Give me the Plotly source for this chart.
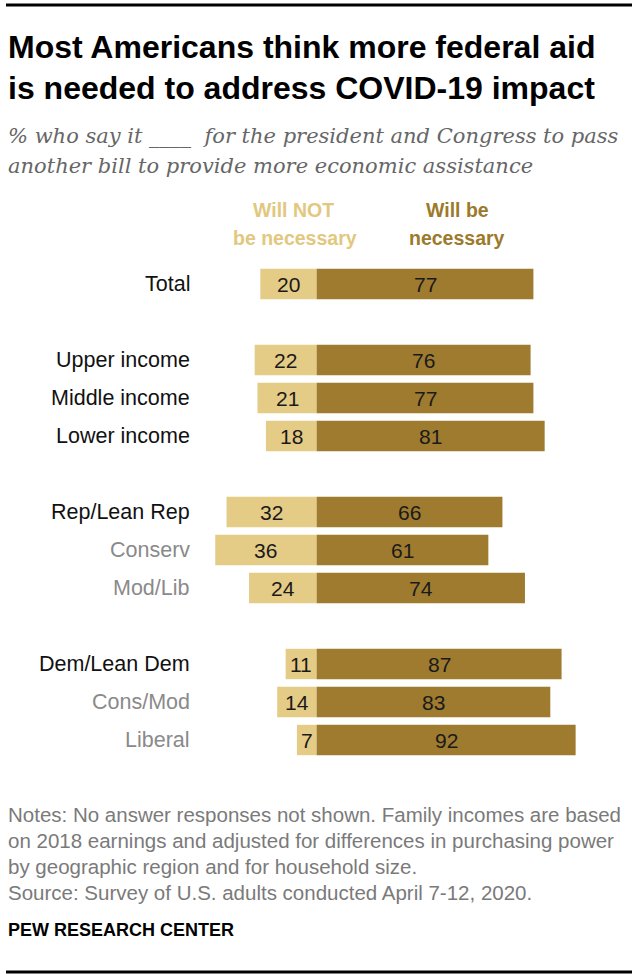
import plotly.graph_objects as go

# data
categories = ["Total", "Upper income", "Middle income", "Lower income",
              "Rep/Lean Rep", "Conserv", "Mod/Lib",
              "Dem/Lean Dem", "Cons/Mod", "Liberal"]
row_pos = [0, 2, 3, 4, 6, 7, 8, 10, 11, 12]
subgroup = [False, False, False, False, False, True, True, False, True, True]
will_not = [20, 22, 21, 18, 32, 36, 24, 11, 14, 7]
will_be = [77, 76, 77, 81, 66, 61, 74, 87, 83, 92]

title_lines = ["Most Americans think more federal aid",
               "is needed to address COVID-19 impact"]
subtitle_lines = ["% who say it ____  for the president and Congress to pass",
                  "another bill to provide more economic assistance"]
note_lines = ["Notes: No answer responses not shown. Family incomes are based",
              "on 2018 earnings and adjusted for differences in purchasing power",
              "by geographic region and for household size.",
              "Source: Survey of U.S. adults conducted April 7-12, 2020."]

LIGHT = "#E4CB86"
DARK = "#9E7B2F"
SANS = "Liberation Sans, Arial, sans-serif"
SERIF = "DejaVu Serif, Georgia, serif"

# layout geometry (pixels)
W, H = 638, 980
ML, MR, MT, MB = 204, 39, 265, 221
PW, PH = W - ML - MR, H - MT - MB


def px_x(px):
    return (px - ML) / PW


def px_y(py):
    return (H - MB - py) / PH


def text_at(x, y, text, font, xanchor="left"):
    return dict(x=px_x(x), y=px_y(y), xref="paper", yref="paper", xanchor=xanchor,
                yanchor="middle", showarrow=False, text=text, font=font)


fig = go.Figure()
fig.add_trace(go.Bar(y=row_pos, x=[-v for v in will_not], orientation="h",
                     marker=dict(color=LIGHT, line=dict(width=0)), width=0.8,
                     hoverinfo="skip", name="Will NOT be necessary"))
fig.add_trace(go.Bar(y=row_pos, x=will_be, orientation="h",
                     marker=dict(color=DARK, line=dict(width=0)), width=0.8,
                     hoverinfo="skip", name="Will be necessary"))

annotations = []
for c, p, sub, n, b in zip(categories, row_pos, subgroup, will_not, will_be):
    # value labels inside bars
    annotations.append(dict(x=-n / 2, y=p, xref="x", yref="y", text=str(n), showarrow=False,
                            font=dict(family=SANS, size=21, color="#1a1a1a")))
    annotations.append(dict(x=b / 2, y=p, xref="x", yref="y", text=str(b), showarrow=False,
                            font=dict(family=SANS, size=21, color="#1a1a1a")))
    # category labels
    annotations.append(dict(x=px_x(192), y=p, xref="paper", yref="y", text=c, showarrow=False,
                            xanchor="right", yanchor="middle",
                            font=dict(family=SANS, size=21.5,
                                      color="#8a8a8a" if sub else "#111111")))

title_font = dict(family=SANS, size=32, color="#000000")
for i, t in enumerate(title_lines):
    annotations.append(text_at(6, 47 + 41 * i, "<b>" + t + "</b>", title_font))

sub_font = dict(family=SERIF, size=21, color="#666666")
for i, t in enumerate(subtitle_lines):
    annotations.append(text_at(6, 136 + 30 * i, "<i>" + t + "</i>", sub_font))

annotations += [
    text_at(293, 210, "<b>Will NOT</b>", dict(family=SANS, size=19.5, color="#E2C87E"), "center"),
    text_at(295, 238, "<b>be necessary</b>", dict(family=SANS, size=19.5, color="#E2C87E"), "center"),
    text_at(457, 210, "<b>Will be</b>", dict(family=SANS, size=19.5, color="#9C7A2B"), "center"),
    text_at(457, 238, "<b>necessary</b>", dict(family=SANS, size=19.5, color="#9C7A2B"), "center"),
]

note_font = dict(family=SANS, size=20.5, color="#7a7a7a")
for i, t in enumerate(note_lines):
    annotations.append(text_at(6, 814 + 26 * i, t, note_font))

annotations.append(text_at(6, 930, "<b>PEW RESEARCH CENTER</b>",
                           dict(family=SANS, size=18, color="#000000")))

shapes = [
    dict(type="line", xref="paper", yref="paper", x0=px_x(6), x1=px_x(632), y0=px_y(5), y1=px_y(5),
         line=dict(color="#000000", width=3)),
    dict(type="line", xref="paper", yref="paper", x0=px_x(6), x1=px_x(632), y0=px_y(972), y1=px_y(972),
         line=dict(color="#000000", width=3)),
]

fig.update_layout(
    width=W, height=H,
    margin=dict(l=ML, r=MR, t=MT, b=MB),
    barmode="relative",
    showlegend=False,
    plot_bgcolor="white", paper_bgcolor="white",
    xaxis=dict(range=[-40, 100.3], visible=False, fixedrange=True),
    yaxis=dict(range=[12.5, -0.5], visible=False, fixedrange=True),
    annotations=annotations,
    shapes=shapes,
)

fig.write_html("out.html", config={"displayModeBar": False},
               post_script="document.body.style.margin = '0';")
